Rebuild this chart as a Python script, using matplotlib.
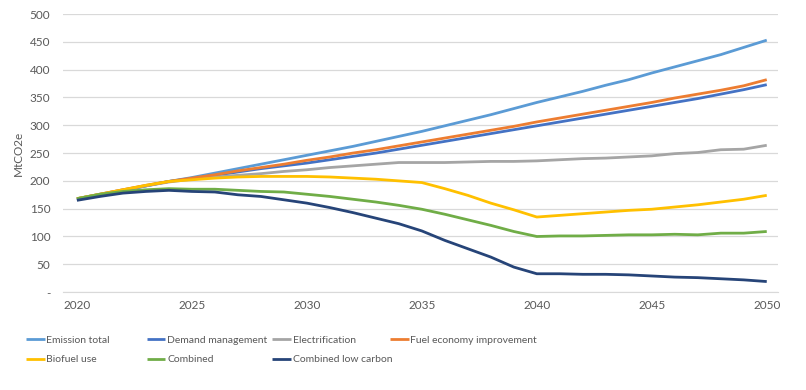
import numpy as np
import matplotlib
matplotlib.use('Agg')
import matplotlib.pyplot as plt
from matplotlib.ticker import FuncFormatter

plt.rcParams['font.family'] = ['Lato', 'DejaVu Sans']

years = np.arange(2020, 2051)

emission_total = [167, 175, 183, 191, 199, 206, 214, 222, 230, 238, 246, 254, 262, 271, 280, 289,
                  299, 309, 319, 330, 341, 351, 361, 372, 382, 394, 405, 416, 427, 440, 453]
demand_mgmt = [167, 175, 183, 191, 199, 204, 210, 216, 222, 227, 232, 238, 244, 250, 257, 264,
               271, 278, 285, 292, 299, 306, 313, 320, 327, 334, 341, 348, 356, 364, 373]
electrification = [168, 176, 184, 191, 198, 203, 207, 210, 213, 217, 220, 224, 227, 230, 233, 233,
                   233, 234, 235, 235, 236, 238, 240, 241, 243, 245, 249, 251, 256, 257, 264]
fuel_economy = [168, 176, 184, 192, 199, 205, 211, 218, 224, 230, 237, 243, 250, 256, 263, 270,
                277, 284, 291, 298, 306, 313, 320, 327, 334, 341, 349, 356, 363, 371, 382]
biofuel = [168, 176, 184, 192, 199, 202, 205, 207, 208, 208, 208, 207, 205, 203, 200, 197,
           186, 174, 160, 148, 135, 138, 141, 144, 147, 149, 153, 157, 162, 167, 174]
combined = [168, 176, 181, 184, 186, 185, 185, 183, 181, 180, 176, 172, 167, 162, 156, 149,
            140, 130, 120, 109, 100, 101, 101, 102, 103, 103, 104, 103, 106, 106, 109]
combined_low = [165, 172, 178, 181, 183, 181, 180, 175, 172, 166, 160, 152, 143, 133, 123, 110,
                93, 78, 63, 45, 33, 33, 32, 32, 31, 29, 27, 26, 24, 22, 19]

series = [
    ('Emission total', emission_total, '#5B9BD5'),
    ('Demand management', demand_mgmt, '#4472C4'),
    ('Electrification', electrification, '#A5A5A5'),
    ('Fuel economy improvement', fuel_economy, '#ED7D31'),
    ('Biofuel use', biofuel, '#FFC000'),
    ('Combined', combined, '#70AD47'),
    ('Combined low carbon', combined_low, '#264478'),
]

txt = '#595959'
fig = plt.figure(figsize=(8.06, 3.90), dpi=100)
ax = fig.add_axes([0.078, 0.251, 0.887, 0.713])

lines = {}
for name, vals, c in series:
    l, = ax.plot(years, vals, color=c, lw=2.0, solid_capstyle='butt')
    lines[name] = l

ax.set_xlim(2019.39, 2050.48)
ax.set_ylim(0, 500)
ax.set_yticks(np.arange(0, 501, 50))
ax.set_xticks(np.arange(2020, 2051, 5))
ax.yaxis.set_major_formatter(FuncFormatter(lambda v, p: '-' if v == 0 else f'{v:.0f}'))
ax.grid(axis='y', color='#D9D9D9', lw=0.9)
ax.set_axisbelow(True)
for s in ['top', 'right', 'left']:
    ax.spines[s].set_visible(False)
ax.spines['bottom'].set_color('#D9D9D9')
ax.tick_params(length=0, labelsize=8.5, colors=txt, pad=6)
ax.tick_params(axis='y', pad=9)
ax.set_ylabel('MtCO2e', color=txt, fontsize=8.5, labelpad=4)

cols = [
    (0.032, ['Emission total', 'Biofuel use']),
    (0.182, ['Demand management', 'Combined']),
    (0.338, ['Electrification', 'Combined low carbon']),
    (0.484, ['Fuel economy improvement']),
]
for x, names in cols:
    fig.legend(handles=[lines[n] for n in names], labels=names, loc='upper left',
               bbox_to_anchor=(x, 0.14), frameon=False, fontsize=7.5,
               handlelength=1.8, handletextpad=0.15, labelspacing=1.0,
               borderaxespad=0, borderpad=0, labelcolor=txt)

fig.savefig('out.png', dpi=100)
